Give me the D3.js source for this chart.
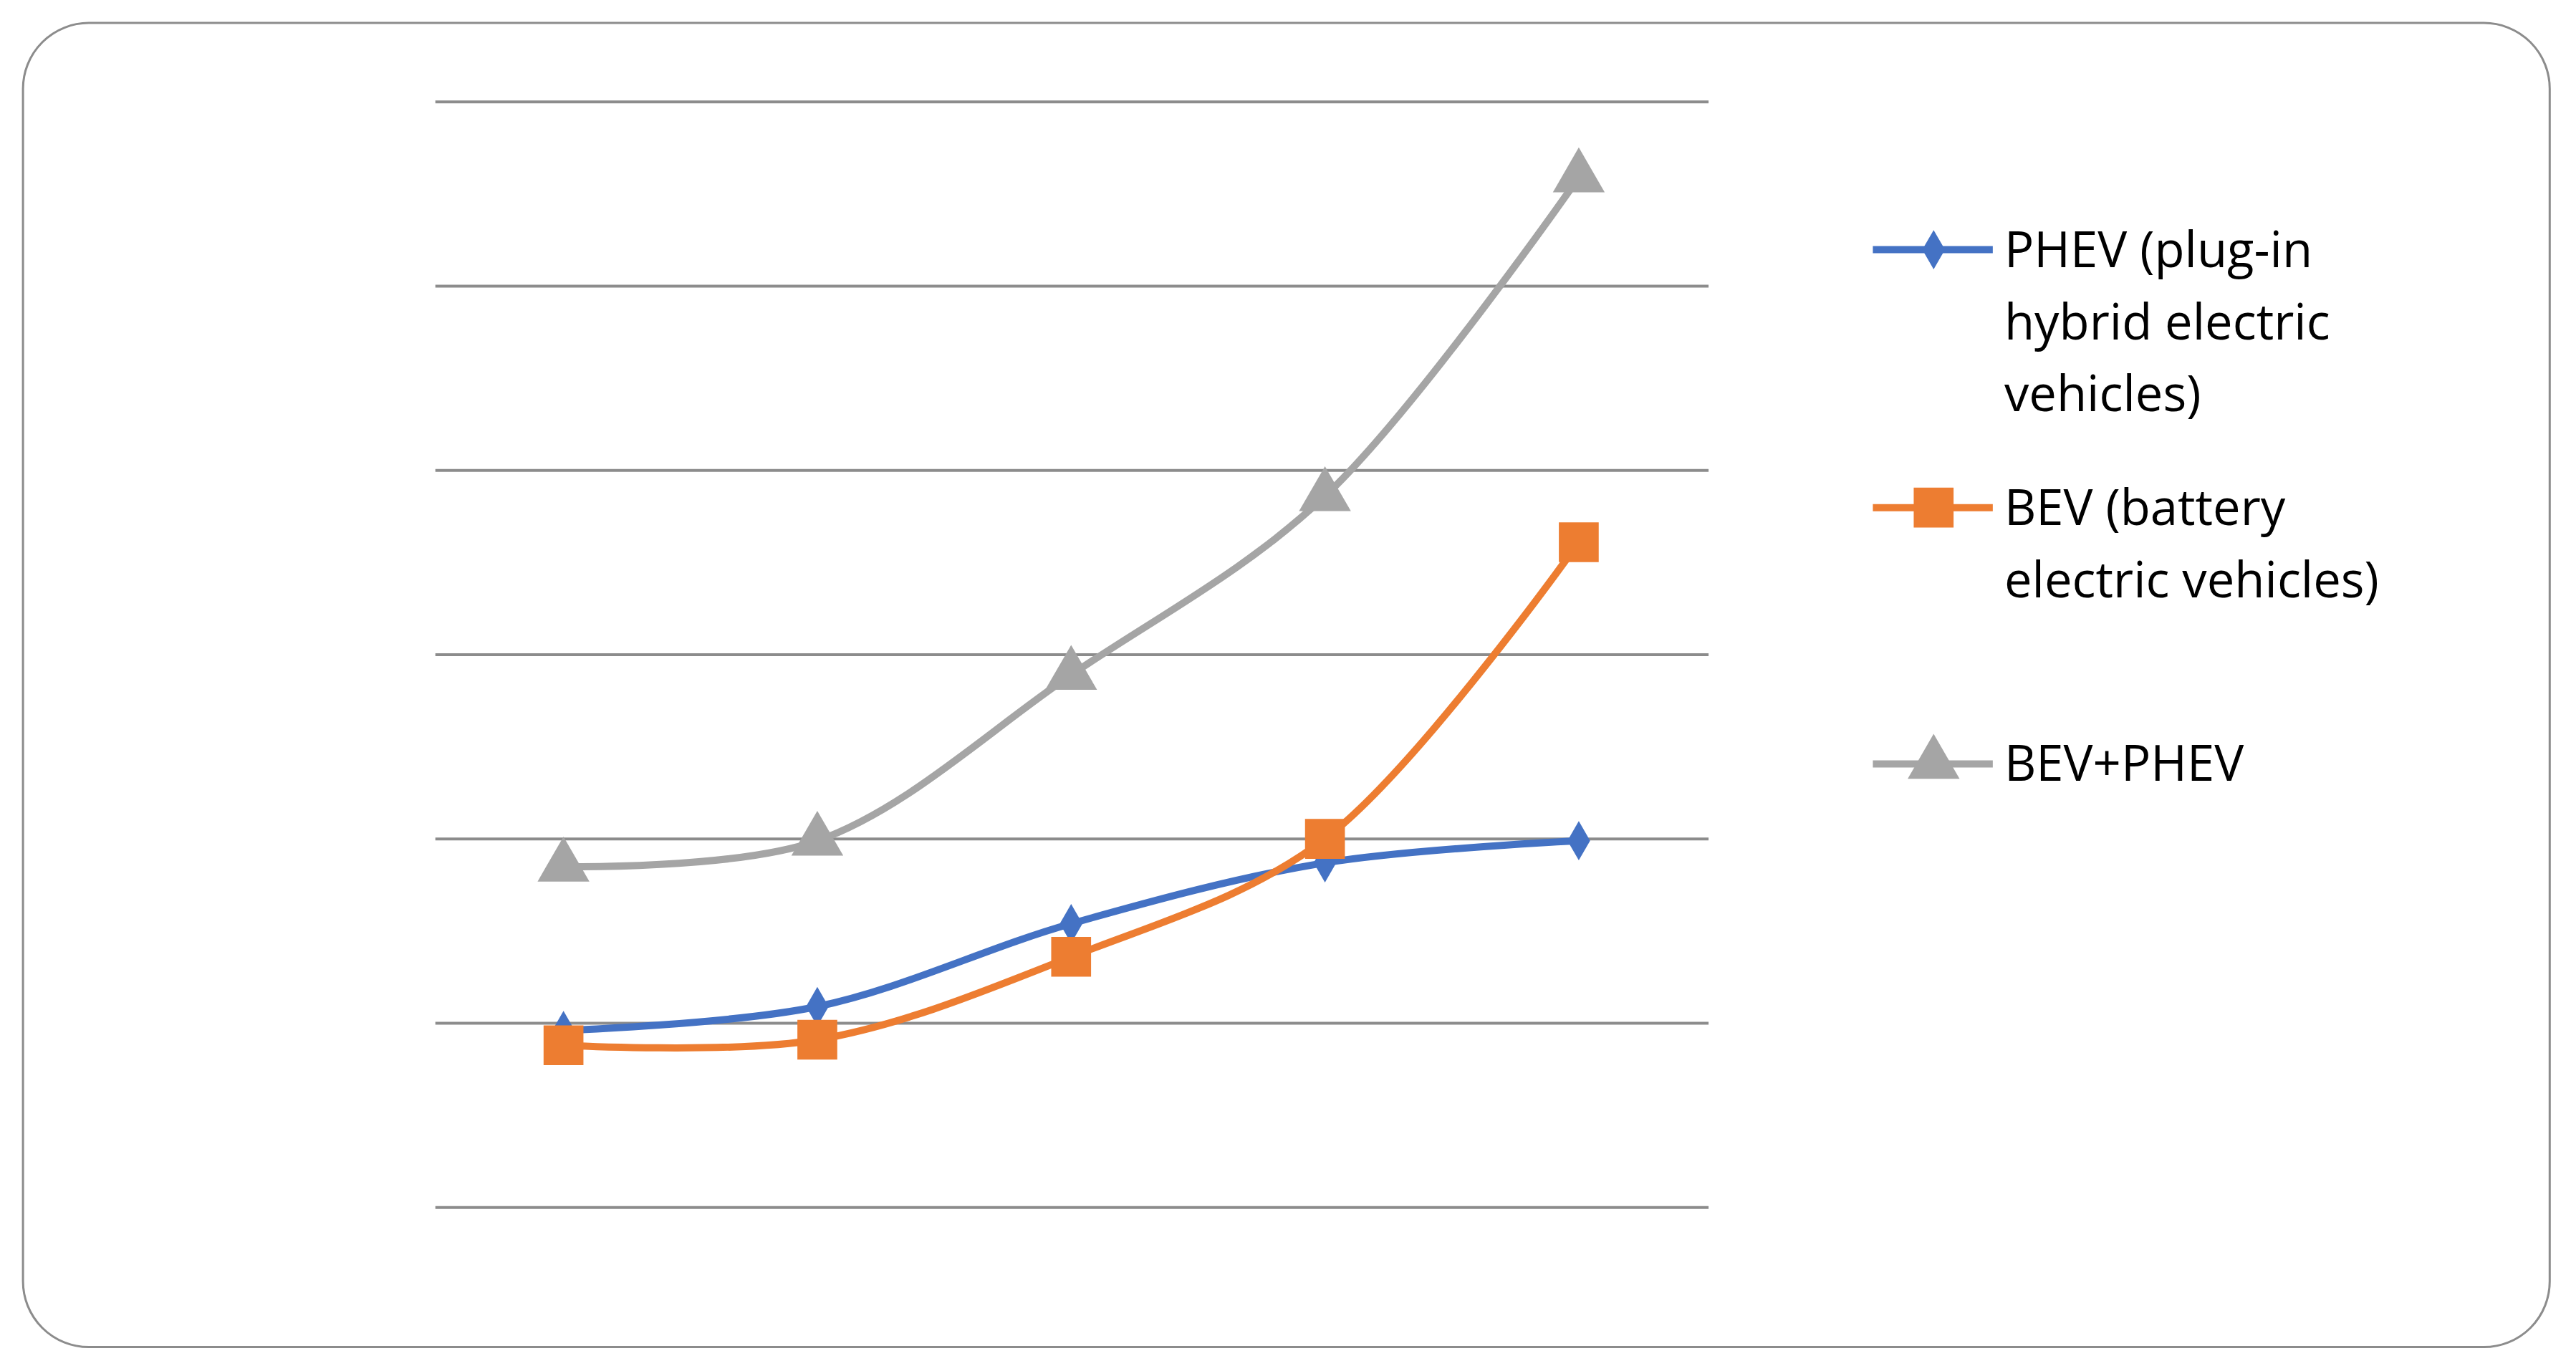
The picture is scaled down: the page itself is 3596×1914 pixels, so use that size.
<!DOCTYPE html><html><head><meta charset="utf-8">
<script src="https://cdn.jsdelivr.net/npm/d3@7"></script>
<style>body{margin:0;background:#fff}</style></head><body>
<svg id="c" width="3596" height="1914"></svg>
<script>
const categories=["1","2","3","4","5"];
const phev=[0.96,1.09,1.54,1.87,1.99];
const bev=[0.88,0.91,1.36,2.0,3.61];
const total=[1.85,1.99,2.89,3.86,5.59];
const yTicks=[0,1,2,3,4,5,6];
const series=[
 {name:["PHEV (plug-in","hybrid electric","vehicles)"],values:phev,color:"#4472C4",sym:d3.symbolDiamond,size:420,ly:152},
 {name:["BEV (battery","electric vehicles)"],values:bev,color:"#ED7D31",sym:d3.symbolSquare,size:1500,ly:309},
 {name:["BEV+PHEV"],values:total,color:"#A5A5A5",sym:d3.symbolTriangle,size:1100,ly:465}];
const s=3596/1568;
const svg=d3.select("#c");
svg.append("rect").attr("x",14*s).attr("y",14*s).attr("width",1538*s).attr("height",806*s)
 .attr("rx",40*s).attr("fill","#fff").attr("stroke","#8c8c8c").attr("stroke-width",3);
const x=d3.scalePoint().domain(categories).range([343*s,961*s]);
const y=d3.scaleLinear().domain([0,6]).range([735*s,62*s]);
svg.append("g").selectAll("line").data(yTicks).join("line")
 .attr("x1",265*s).attr("x2",1040*s).attr("y1",d=>y(d)).attr("y2",d=>y(d))
 .attr("stroke","#8c8c8c").attr("stroke-width",4);
const line=d3.line().x((d,i)=>x(categories[i])).y(d=>y(d)).curve(d3.curveCatmullRom.alpha(0.5));
series.forEach(se=>{
 svg.append("path").attr("d",line(se.values)).attr("fill","none").attr("stroke",se.color).attr("stroke-width",10).attr("stroke-linecap","round");
 const sym=d3.symbol().type(se.sym).size(se.size*s*0.9);
 svg.append("g").selectAll("path").data(se.values).join("path")
  .attr("transform",(d,i)=>`translate(${x(categories[i])},${y(d)})`).attr("d",sym).attr("fill",se.color);
 const g=svg.append("g");
 g.append("line").attr("x1",1140*s).attr("x2",1213*s).attr("y1",se.ly*s).attr("y2",se.ly*s).attr("stroke",se.color).attr("stroke-width",10);
 g.append("path").attr("transform",`translate(${1177*s},${se.ly*s})`).attr("d",sym).attr("fill",se.color);
 se.name.forEach((t,k)=>g.append("text").attr("x",1220*s).attr("y",(se.ly+44*k)*s).attr("dy","0.35em")
  .attr("font-family","Open Sans, sans-serif").attr("font-size",30*s).attr("fill","#000").text(t));
});
</script></body></html>
